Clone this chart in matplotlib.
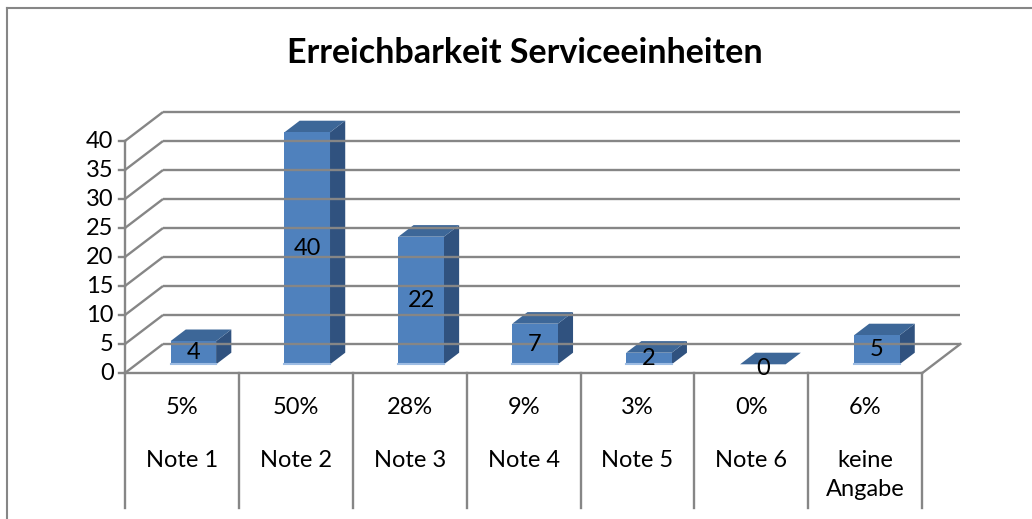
import matplotlib
matplotlib.use("Agg")
import matplotlib.pyplot as plt
from matplotlib.patches import Polygon
from matplotlib.lines import Line2D

plt.rcParams['font.family'] = ['Lato', 'DejaVu Sans']

# data
categories = ["Note 1", "Note 2", "Note 3", "Note 4", "Note 5", "Note 6", "keine\nAngabe"]
counts = [4, 40, 22, 7, 2, 0, 5]
percents = ["5%", "50%", "28%", "9%", "3%", "0%", "6%"]
title = "Erreichbarkeit Serviceeinheiten"
y_ticks = [0, 5, 10, 15, 20, 25, 30, 35, 40]

# oblique "3D" look: offset of the back wall in data units
DX, DY = 0.334, 5.0
grid_col = "#868686"
front_col = "#4F81BD"
top_col = "#3D6798"
side_col = "#30527F"

fig = plt.figure(figsize=(10.32, 5.19), dpi=100)
ax = fig.add_axes([0, 0, 1, 1])
ax.set_xlim(-1.097, 7.963)
ax.set_ylim(-25.17, 64.31)
ax.axis("off")

n = len(categories)
ymax = y_ticks[-1]

# side wall and back wall gridlines
for v in y_ticks:
    ax.plot([0, DX], [v, v + DY], color=grid_col, lw=1.7, solid_capstyle="butt")
    ax.plot([DX, n + DX], [v + DY, v + DY], color=grid_col, lw=1.7, solid_capstyle="butt")
    ax.plot([-0.05, 0], [v, v], color=grid_col, lw=1.7)
    ax.text(-0.1, v, str(v), ha="right", va="center", fontsize=17)

# floor front edge and right edge
ax.plot([0, n], [0, 0], color=grid_col, lw=1.7)
ax.plot([n, n + DX], [0, DY], color=grid_col, lw=1.7)
ax.plot([0, 0], [0, ymax], color=grid_col, lw=1.7)

# category table below the floor
for i in range(n + 1):
    ax.plot([i, i], [0, -23.3], color=grid_col, lw=1.7)
for i, (cat, pct) in enumerate(zip(categories, percents)):
    ax.text(i + 0.5, -6.0, pct, ha="center", va="center", fontsize=17)
    yc = -17.6 if "\n" in cat else -15.0
    ax.text(i + 0.5, yc, cat, ha="center", va="center", fontsize=17,
            linespacing=1.5)

# bars
f0, f1 = 0.3, 0.7
w = 0.4
for i, v in enumerate(counts):
    x0 = i + 0.5 - w / 2
    x1 = x0 + w
    ox0, oy0 = DX * f0, DY * f0
    ox1, oy1 = DX * f1, DY * f1
    front = [(x0 + ox0, oy0), (x1 + ox0, oy0), (x1 + ox0, v + oy0), (x0 + ox0, v + oy0)]
    side = [(x1 + ox0, oy0), (x1 + ox1, oy1), (x1 + ox1, v + oy1), (x1 + ox0, v + oy0)]
    top = [(x0 + ox0, v + oy0), (x1 + ox0, v + oy0), (x1 + ox1, v + oy1), (x0 + ox1, v + oy1)]
    ax.add_patch(Polygon(side, closed=True, fc=side_col, ec="none"))
    ax.add_patch(Polygon(top, closed=True, fc=top_col, ec="none"))
    if v > 0:
        ax.add_patch(Polygon(front, closed=True, fc=front_col, ec="none"))
        ax.plot([x0 + ox0, x1 + ox0], [oy0, oy0], color="#9DBCE3", lw=1.5)
    ly = oy0 + v / 2 if v > 0 else oy0 - 0.8
    ax.text((x0 + x1) / 2 + ox0, ly, str(v), ha="center", va="center", fontsize=17)

ax.text(3.51, 55.2, title, ha="center", va="center",
        fontsize=24.5, fontweight="bold")

# outer chart frame (right and bottom sides fall outside the image)
fig.add_artist(Line2D([7 / 1032, 7 / 1032], [0, 1 - 8 / 519], color=grid_col, lw=1.5))
fig.add_artist(Line2D([7 / 1032, 1], [1 - 8 / 519, 1 - 8 / 519], color=grid_col, lw=1.5))

fig.savefig("out.png", dpi=100)
